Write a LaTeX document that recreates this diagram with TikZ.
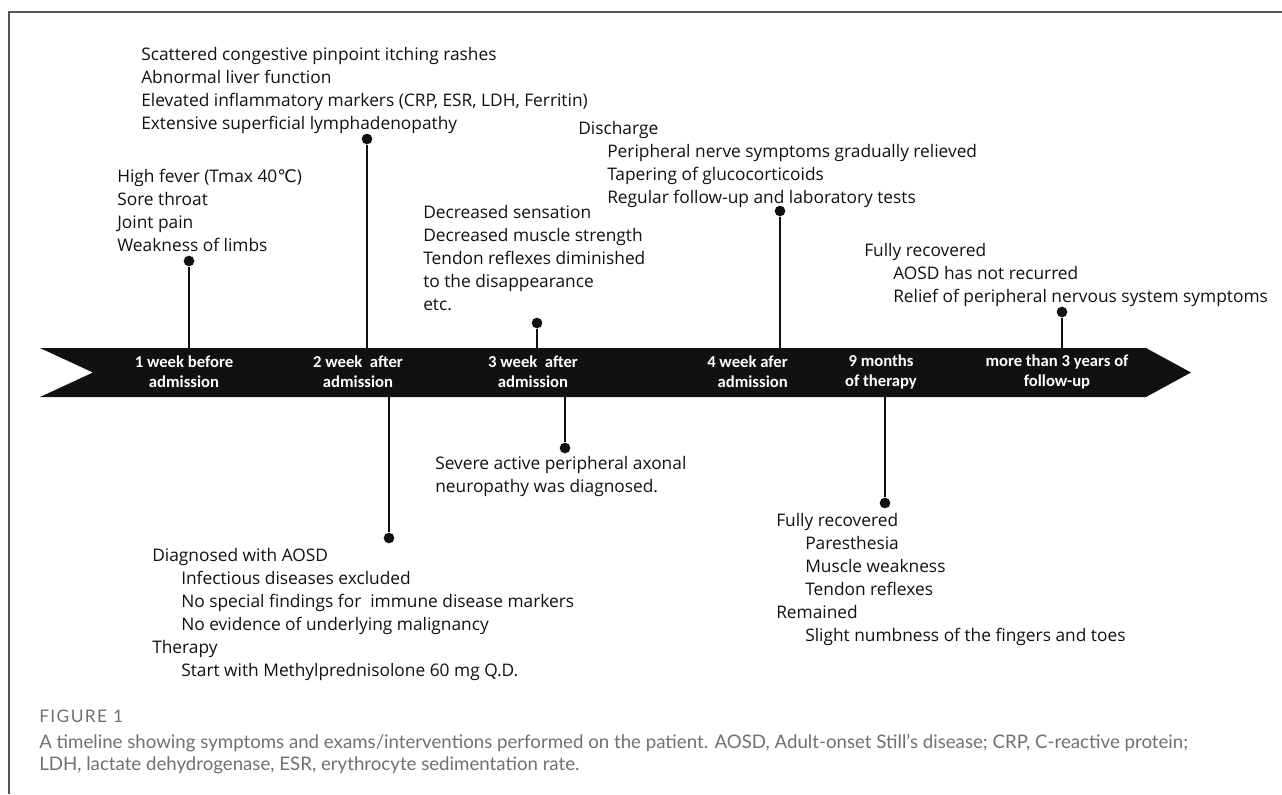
\documentclass[tikz,border=0pt]{standalone}
\usepackage{fontspec}
\setmainfont{Open Sans}
\newfontfamily\barface{Carlito}
\newfontfamily\capface{Lato}
\newfontfamily\symface{DejaVu Sans}
\usetikzlibrary{positioning}
\definecolor{ink}{HTML}{111111}
\definecolor{rulegray}{HTML}{555555}
\definecolor{capgray}{HTML}{707070}
\newcommand{\indnt}{\hspace*{21.75pt}}
\newcommand{\notefont}{\fontsize{13}{17.25}\selectfont}
\newcommand{\barfont}{\barface\bfseries\fontsize{12.5}{15}\selectfont}
\tikzset{
  note/.style={anchor=north west, align=left, inner sep=0pt, font=\notefont, text=ink},
  barlbl/.style={align=center, inner sep=0pt, font=\barfont, text=white},
  pin/.style={circle, fill=ink, inner sep=0pt, minimum size=8pt},
  stem/.style={draw=ink, line width=1.1pt},
  frameline/.style={draw=rulegray, line width=1.5pt},
  capt/.style={anchor=north west, align=left, inner sep=0pt, text=capgray}
}
\begin{document}
\begin{tikzpicture}[x=0.75pt, y=-0.75pt]
\useasboundingbox (0,0) rectangle (1282,794);

% --- frame
\draw[frameline] (1282,12) -- (9,12) -- (9,794);

% --- bar
\fill[ink] (40,348) -- (1146,348) -- (1191,372.5) -- (1146,397) -- (40,397) -- (93,372.5) -- cycle;
\coordinate (top) at (0,348);
\coordinate (bot) at (0,397);

\node[barlbl] (t1) at (184,372) {1 week before\\admission};
\node[barlbl] (t2) at (358,372) {2 week\ \ after\\admission};
\node[barlbl] (t3) at (533,372) {3 week\ \ after\\admission};
\node[barlbl, align=right, anchor=east] (t4) at (788,372) {4 week afer\\admission};
\node[barlbl] (t5) at (881,372) {9 months\\of therapy};
\node[barlbl] (t6) at (1057,372) {more than 3 years of\\follow-up};

% --- above the bar
\node[pin] (d1) at (189,261) {};
\node[pin] (d2) at (367,139) {};
\node[pin] (d3) at (537,323) {};
\node[pin] (d4) at (780,211) {};
\node[pin] (d6) at (1062,312) {};

\node[note] (fever) at (117,169) {High fever (Tmax 40{\symface ℃})\\Sore throat\\Joint pain\\Weakness of limbs};
\node[note] (rash) at (141,47) {Scattered congestive pinpoint itching rashes\\Abnormal liver function\\Elevated inflammatory markers (CRP, ESR, LDH, Ferritin)\\Extensive superficial lymphadenopathy};
\node[note] (sens) at (423,205) {Decreased sensation\\Decreased muscle strength\\Tendon reflexes diminished\\to the disappearance\\etc.};
\node[note] (disch) at (578,121) {Discharge\\\indnt Peripheral nerve symptoms gradually relieved\\\indnt Tapering of glucocorticoids\\\indnt Regular follow-up and laboratory tests};
\node[note] (recov) at (864,243) {Fully recovered\\\indnt AOSD has not recurred\\\indnt Relief of peripheral nervous system symptoms};

% --- below the bar
\node[pin] (e2) at (389,538) {};
\node[pin] (e3) at (565,448) {};
\node[pin] (e5) at (885,503) {};

\node[note] (aosd) at (152,548) {Diagnosed with AOSD\\\indnt Infectious diseases excluded\\\indnt No special findings for\ \ immune disease markers\\\indnt No evidence of underlying malignancy\\Therapy\\\indnt Start with Methylprednisolone 60 mg Q.D.};
\node[note] (axon) at (435,456) {Severe active peripheral axonal\\neuropathy was diagnosed.};
\node[note] (final) at (776,513) {Fully recovered\\\indnt Paresthesia\\\indnt Muscle weakness\\\indnt Tendon reflexes\\Remained\\\indnt Slight numbness of the fingers and toes};

\draw[stem] (d1) -- (d1 |- top);
\draw[stem] (d2) -- (d2 |- top);
\draw[stem] (d3) -- (d3 |- top);
\draw[stem] (d4) -- (d4 |- top);
\draw[stem] (d6) -- (d6 |- top);
\draw[stem] (e2) -- (e2 |- bot);
\draw[stem] (e3) -- (e3 |- bot);
\draw[stem] (e5) -- (e5 |- bot);

% --- caption
\node[capt, font=\capface\fontsize{13}{15}\selectfont\addfontfeatures{LetterSpace=8}] (fig) at (39,710) {FIGURE 1};
\node[capt, font=\capface\fontsize{14}{16.5}\selectfont] (cap) at (39,734) {A timeline showing symptoms and exams/interventions performed on the patient. AOSD, Adult-onset Still’s disease; CRP, C-reactive protein;\\LDH, lactate dehydrogenase, ESR, erythrocyte sedimentation rate.};
\end{tikzpicture}
\end{document}
